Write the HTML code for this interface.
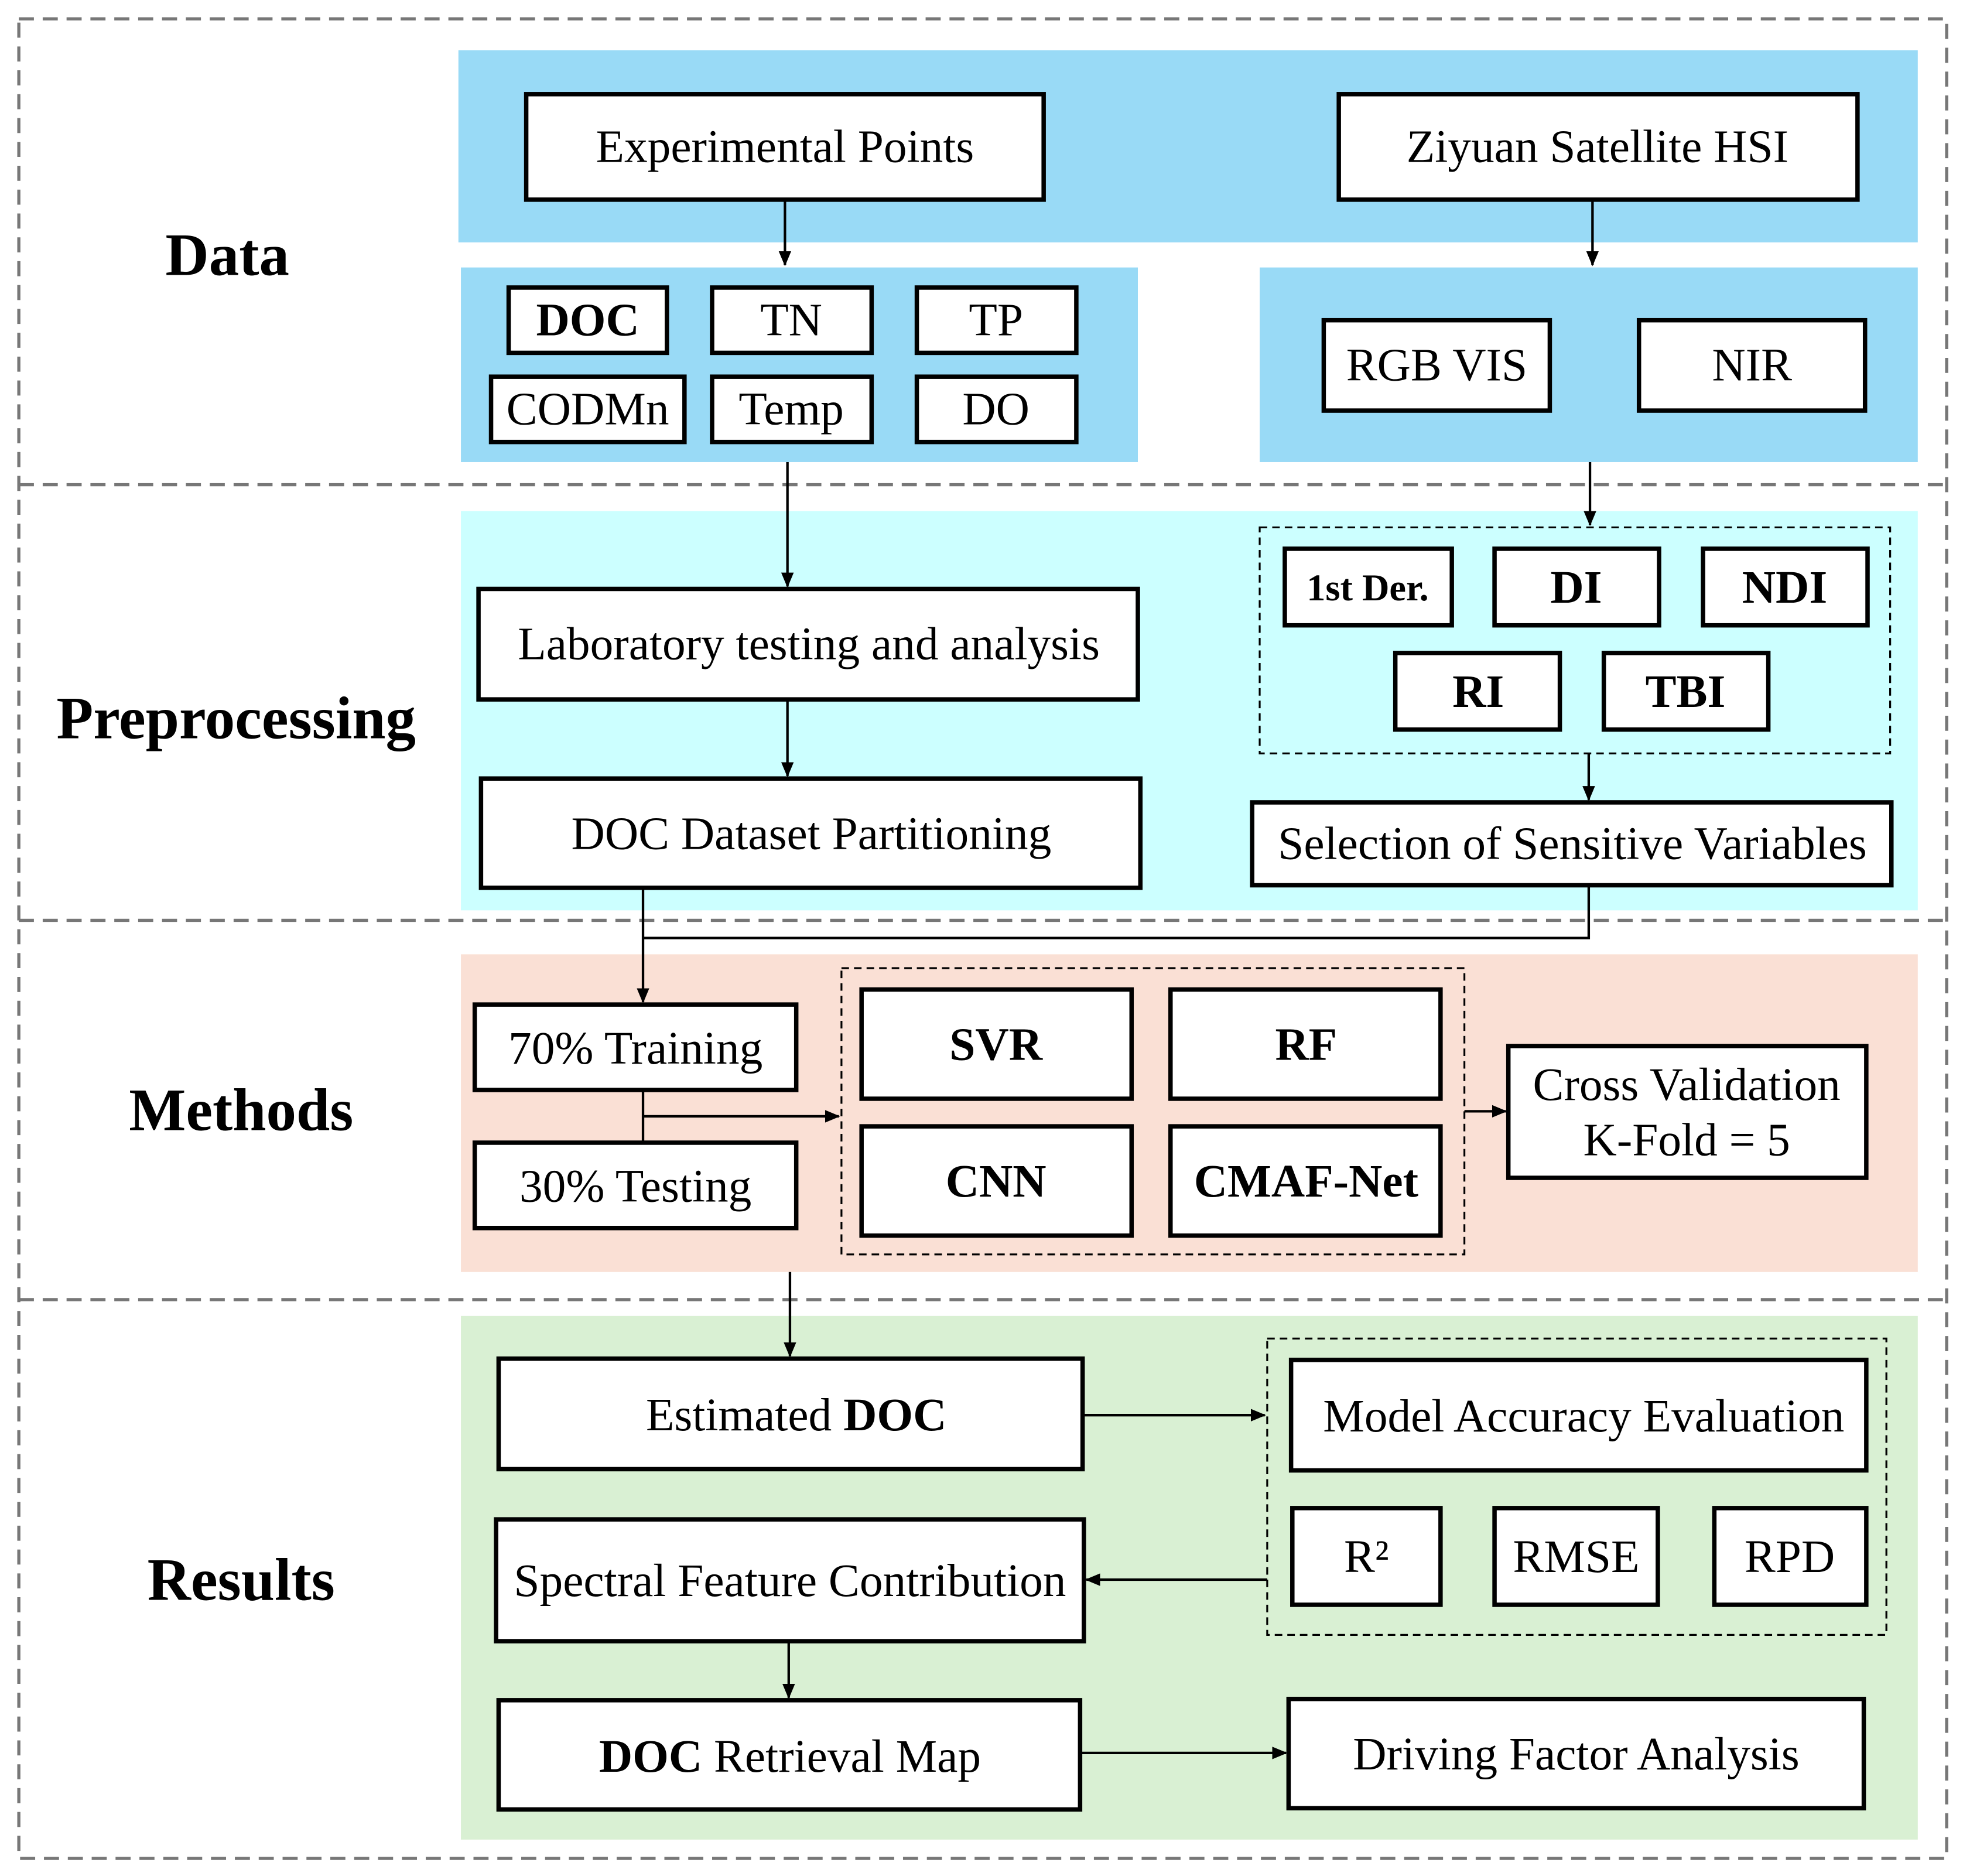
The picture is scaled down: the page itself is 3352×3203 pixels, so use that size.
<!DOCTYPE html>
<html><head><meta charset="utf-8"><style>
html,body{margin:0;padding:0;background:#fff}
svg{display:block}
text{font-family:"Liberation Serif",serif;fill:#000}
</style></head><body>
<svg width="3352" height="3203" viewBox="0 0 1563 1494" preserveAspectRatio="none" xmlns="http://www.w3.org/2000/svg">
<defs>
<marker id="b" markerWidth="12" markerHeight="12" refX="11" refY="6" orient="auto" markerUnits="userSpaceOnUse"><path d="M0,1 L12,6 L0,11 z" fill="#000"/></marker></defs>
<rect x="365" y="40" width="1162" height="153" fill="#99DAF6"/>
<rect x="367" y="213" width="539" height="155" fill="#99DAF6"/>
<rect x="1003" y="213" width="524" height="155" fill="#99DAF6"/>
<rect x="367" y="407" width="1160" height="318" fill="#CCFFFF"/>
<rect x="367" y="760" width="1160" height="253" fill="#FAE0D5"/>
<rect x="367" y="1048" width="1160" height="417" fill="#D9F0D3"/>
<g stroke="#777" stroke-width="2.5" stroke-dasharray="12,7" fill="none">
<rect x="15" y="15" width="1535" height="1465"/>
<line x1="15" y1="386" x2="1550" y2="386"/>
<line x1="15" y1="733" x2="1550" y2="733"/>
<line x1="15" y1="1035" x2="1550" y2="1035"/>
</g>
<g stroke="#000" stroke-width="1.5" stroke-dasharray="6,4" fill="none">
<rect x="1003" y="420" width="502" height="180"/>
<rect x="670" y="771" width="496" height="228"/>
<rect x="1009" y="1066" width="493" height="236"/>
</g>
<g fill="#fff" stroke="#000" stroke-width="3.5">
<rect x="419" y="75" width="412" height="84"/>
<rect x="1066" y="75" width="413" height="84"/>
<rect x="405" y="229" width="126" height="52"/>
<rect x="567" y="229" width="127" height="52"/>
<rect x="730" y="229" width="127" height="52"/>
<rect x="391" y="300" width="154" height="52"/>
<rect x="567" y="300" width="127" height="52"/>
<rect x="730" y="300" width="127" height="52"/>
<rect x="1054" y="255" width="180" height="72"/>
<rect x="1305" y="255" width="180" height="72"/>
<rect x="381" y="469" width="525" height="88"/>
<rect x="383" y="620" width="525" height="87"/>
<rect x="1023" y="437" width="133" height="61"/>
<rect x="1190" y="437" width="131" height="61"/>
<rect x="1356" y="437" width="131" height="61"/>
<rect x="1111" y="520" width="131" height="61"/>
<rect x="1277" y="520" width="131" height="61"/>
<rect x="997" y="639" width="509" height="66"/>
<rect x="378" y="800" width="256" height="68"/>
<rect x="378" y="910" width="256" height="68"/>
<rect x="686" y="788" width="215" height="87"/>
<rect x="932" y="788" width="215" height="87"/>
<rect x="686" y="897" width="215" height="87"/>
<rect x="932" y="897" width="215" height="87"/>
<rect x="1201" y="833" width="285" height="105"/>
<rect x="397" y="1082" width="465" height="88"/>
<rect x="1028" y="1083" width="458" height="88"/>
<rect x="1029" y="1201" width="118" height="77"/>
<rect x="1190" y="1201" width="130" height="77"/>
<rect x="1365" y="1201" width="121" height="77"/>
<rect x="395" y="1210" width="468" height="97"/>
<rect x="397" y="1354" width="463" height="87"/>
<rect x="1026" y="1353" width="458" height="87"/>
</g>
<g stroke="#000" stroke-width="2" fill="none">
<line x1="625" y1="159" x2="625" y2="211" marker-end="url(#b)"/>
<line x1="1268" y1="159" x2="1268" y2="211" marker-end="url(#b)"/>
<line x1="627" y1="368" x2="627" y2="467" marker-end="url(#b)"/>
<line x1="1266" y1="368" x2="1266" y2="418" marker-end="url(#b)"/>
<line x1="627" y1="557" x2="627" y2="618" marker-end="url(#b)"/>
<line x1="1265" y1="600" x2="1265" y2="637" marker-end="url(#b)"/>
<polyline points="1265,705 1265,747 512,747"/>
<line x1="512" y1="707" x2="512" y2="798" marker-end="url(#b)"/>
<line x1="512" y1="868" x2="512" y2="910"/>
<line x1="512" y1="889" x2="668" y2="889" marker-end="url(#b)"/>
<line x1="1166" y1="885" x2="1199" y2="885" marker-end="url(#b)"/>
<line x1="629" y1="1013" x2="629" y2="1080" marker-end="url(#b)"/>
<line x1="862" y1="1127" x2="1007" y2="1127" marker-end="url(#b)"/>
<line x1="1009" y1="1258" x2="865" y2="1258" marker-end="url(#b)"/>
<line x1="628" y1="1307" x2="628" y2="1352" marker-end="url(#b)"/>
<line x1="860" y1="1396" x2="1024" y2="1396" marker-end="url(#b)"/>
</g>
<g font-size="48" font-weight="bold" text-anchor="middle">
<text x="181" y="219">Data</text>
<text x="188" y="588">Preprocessing</text>
<text x="192" y="900">Methods</text>
<text x="192" y="1274">Results</text>
</g>
<g font-size="37" text-anchor="middle">
<text x="625" y="129">Experimental Points</text>
<text x="1272" y="129">Ziyuan Satellite HSI</text>
<text x="468" y="267" font-weight="bold">DOC</text>
<text x="630" y="267">TN</text>
<text x="793" y="267">TP</text>
<text x="468" y="338">CODMn</text>
<text x="630" y="338">Temp</text>
<text x="793" y="338">DO</text>
<text x="1144" y="303">RGB VIS</text>
<text x="1395" y="303">NIR</text>
<text x="644" y="525">Laboratory testing and analysis</text>
<text x="646" y="676">DOC Dataset Partitioning</text>
<text x="1089" y="478" font-size="30" font-weight="bold">1st Der.</text>
<text x="1255" y="480" font-weight="bold">DI</text>
<text x="1421" y="480" font-weight="bold">NDI</text>
<text x="1177" y="563" font-weight="bold">RI</text>
<text x="1342" y="563" font-weight="bold">TBI</text>
<text x="1252" y="684">Selection of Sensitive Variables</text>
<text x="506" y="847">70% Training</text>
<text x="506" y="957">30% Testing</text>
<text x="793" y="844" font-weight="bold">SVR</text>
<text x="1040" y="844" font-weight="bold">RF</text>
<text x="793" y="953" font-weight="bold">CNN</text>
<text x="1040" y="953" font-weight="bold">CMAF-Net</text>
<text x="1343" y="876">Cross Validation</text>
<text x="1343" y="920">K-Fold = 5</text>
<text x="634" y="1139">Estimated <tspan font-weight="bold">DOC</tspan></text>
<text x="1261" y="1140">Model Accuracy Evaluation</text>
<text x="1088" y="1252">R²</text>
<text x="1255" y="1252">RMSE</text>
<text x="1425" y="1252">RPD</text>
<text x="629" y="1271">Spectral Feature Contribution</text>
<text x="629" y="1411"><tspan font-weight="bold">DOC</tspan> Retrieval Map</text>
<text x="1255" y="1409">Driving Factor Analysis</text>
</g>
</svg>
</body></html>
